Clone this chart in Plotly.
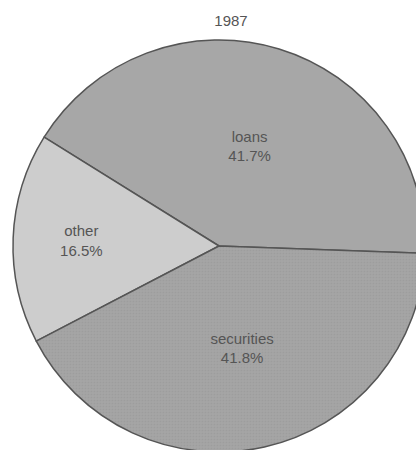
import plotly.graph_objects as go

title_text = "1987"
categories = ["loans", "other", "securities"]
shares = [41.7, 16.5, 41.8]
slice_colors = ["#a7a7a7", "#cdcdcd", "#a5a5a5"]

fig = go.Figure(
    go.Pie(
        labels=categories,
        values=shares,
        sort=False,
        direction="counterclockwise",
        rotation=-58.1,
        texttemplate="%{label}<br>%{value:.1f}%",
        textposition="inside",
        insidetextorientation="horizontal",
        textfont=dict(family="Liberation Sans, Arial, sans-serif", size=15, color="#555555"),
        marker=dict(
            colors=slice_colors,
            line=dict(color="#555555", width=1.5),
            pattern=dict(shape=["", "", "."], size=3, solidity=0.3,
                         fgcolor="#959595", fillmode="overlay"),
        ),
        showlegend=False,
        hoverinfo="label+percent",
    )
)

fig.update_layout(
    width=440,
    height=455,
    margin=dict(l=13, r=15, t=40, b=3),
    paper_bgcolor="white",
    plot_bgcolor="white",
    title=dict(
        text=title_text,
        x=231 / 440,
        xanchor="center",
        y=1 - 21 / 455,
        yanchor="middle",
        font=dict(family="Liberation Sans, Arial, sans-serif", size=15, color="#555555"),
    ),
)

fig.write_html(
    "out.html",
    config={"displayModeBar": False},
    post_script="document.body.style.margin='0';document.body.style.overflow='hidden';document.documentElement.style.overflow='hidden';",
)
